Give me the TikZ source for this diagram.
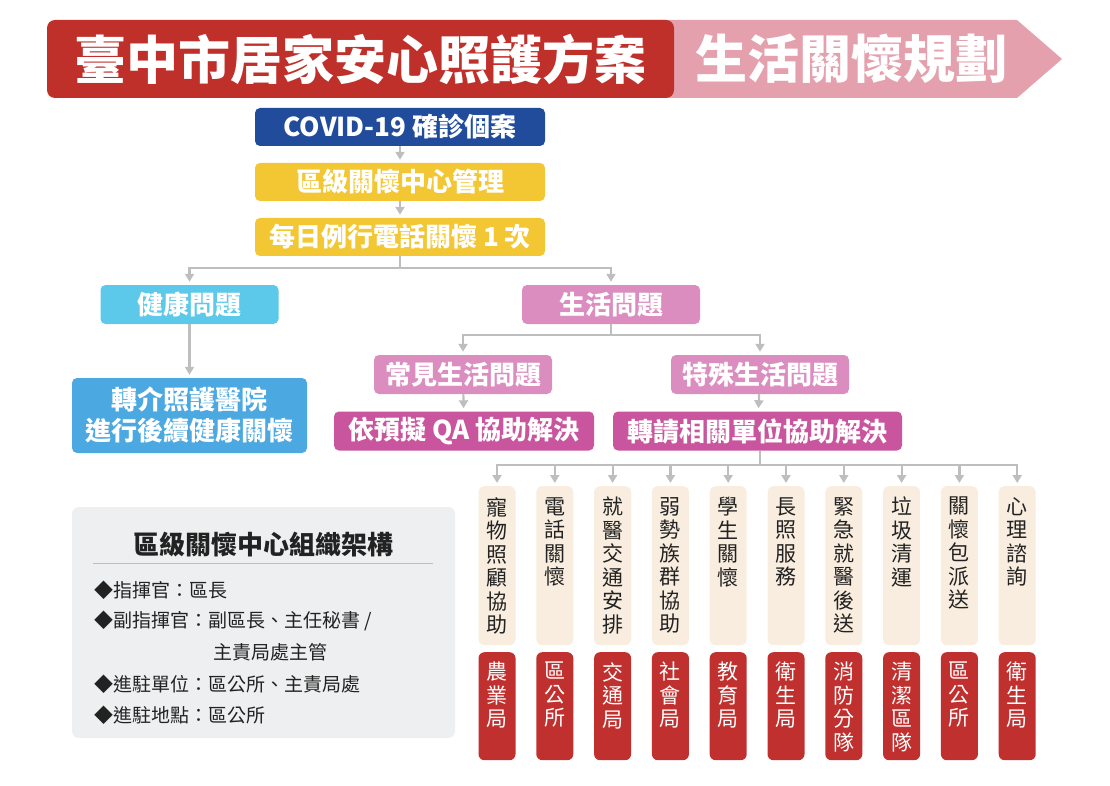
\documentclass[tikz,border=0pt]{standalone}
\usepackage{fontspec}
\setmainfont{Noto Sans CJK TC}
\usetikzlibrary{arrows.meta}
\definecolor{tred}{HTML}{C0302B}
\definecolor{tpink}{HTML}{E4A0AD}
\definecolor{cblue}{HTML}{214C9C}
\definecolor{cyel}{HTML}{F2C733}
\definecolor{hblue}{HTML}{5DC9EA}
\definecolor{rblue}{HTML}{4BA8E0}
\definecolor{lpink}{HTML}{DC8DBF}
\definecolor{mag}{HTML}{C8559D}
\definecolor{beige}{HTML}{F8EDDF}
\definecolor{colred}{HTML}{C0302E}
\definecolor{lgray}{HTML}{BEBEBE}
\definecolor{infog}{HTML}{EEEFF0}
\definecolor{ink}{HTML}{222222}
\tikzset{
  box/.style={rounded corners=5pt, minimum height=39pt, text=white, inner sep=0pt,
    font=\bfseries\fontsize{26}{31}\selectfont, align=center},
  conn/.style={draw=lgray, line width=2.2pt},
  arr/.style={conn, -{Triangle[length=8pt,width=9pt]}, shorten >=3pt},
  colbox/.style={rounded corners=6pt, minimum width=37pt, inner sep=0pt, anchor=north},
  coltext/.style={anchor=north, inner sep=0pt, align=center, font=\fontsize{21}{23.5}\selectfont},
  item/.style={anchor=west, inner sep=0pt, text=ink, font=\fontsize{19}{22}\selectfont},
}
\begin{document}
\begin{tikzpicture}[x=1pt,y=-1pt]
\useasboundingbox (0,0) rectangle (1110,786);
% title banner
\fill[tpink] (640,20) -- (1017,20) -- (1062,59) -- (1017,98) -- (640,98) -- cycle;
\node[fill=tred, rounded corners=8pt, minimum width=627pt, minimum height=78pt, inner sep=0pt] (ttl) at (360.5,59) {};
\node[text=white, font=\bfseries\fontsize{52}{60}\selectfont, inner sep=0pt] (ttltext) at (360,59) {臺中市居家安心照護方案};
\node[text=white, font=\bfseries\fontsize{52}{60}\selectfont, inner sep=0pt] (subttl) at (851,59) {生活關懷規劃};
% top chain
\node[box, fill=cblue, minimum width=290pt, minimum height=38pt] (covid) at (400,127) {COVID-19 確診個案};
\node[box, fill=cyel, minimum width=290pt, minimum height=38pt] (mgmt) at (400,182) {區級關懷中心管理};
\node[box, fill=cyel, minimum width=290pt, minimum height=38pt] (daily) at (400,237) {每日例行電話關懷 1 次};
\node[box, fill=hblue, minimum width=178pt] (health) at (189.5,304.5) {健康問題};
\node[box, fill=lpink, minimum width=178pt] (life) at (611,304.5) {生活問題};
\node[box, fill=rblue, minimum width=235pt, minimum height=75pt, font=\bfseries\fontsize{26}{31}\selectfont] (refer) at (189.5,415.5) {轉介照護醫院\\進行後續健康關懷};
\node[box, fill=lpink, minimum width=178pt] (common) at (463,374.5) {常見生活問題};
\node[box, fill=lpink, minimum width=178pt] (special) at (760,374.5) {特殊生活問題};
\node[box, fill=mag, minimum width=260pt] (qa) at (464,431) {依預擬 QA 協助解決};
\node[box, fill=mag, minimum width=289pt] (transfer) at (757.5,431) {轉請相關單位協助解決};
% connectors top
\draw[arr] (covid) -- (mgmt);
\draw[arr] (mgmt) -- (daily);
\coordinate (dj) at (400,268);
\draw[conn] (daily.south) -- (dj);
\draw[arr] (dj) -| (health.north);
\draw[arr] (dj) -| (life.north);
\draw[arr] (health) -- (refer);
\coordinate (lj) at (611,335);
\draw[conn] (life.south) -- (lj);
\draw[arr] (lj) -| (common.north);
\draw[arr] (lj) -| (special.north);
\draw[arr] (common) -- (qa);
\draw[arr] (special) -- (transfer);
% columns
\coordinate (tj) at (760,465);
\draw[conn] (tj |- transfer.south) -- (tj);
\foreach \i/\a/\b in {0/{寵\\物\\照\\顧\\協\\助}/{農\\業\\局},
  1/{電\\話\\關\\懷}/{區\\公\\所},
  2/{就\\醫\\交\\通\\安\\排}/{交\\通\\局},
  3/{弱\\勢\\族\\群\\協\\助}/{社\\會\\局},
  4/{學\\生\\關\\懷}/{教\\育\\局},
  5/{長\\照\\服\\務}/{衛\\生\\局},
  6/{緊\\急\\就\\醫\\後\\送}/{消\\防\\分\\隊},
  7/{垃\\圾\\清\\運}/{清\\潔\\區\\隊},
  8/{關\\懷\\包\\派\\送}/{區\\公\\所},
  9/{心\\理\\諮\\詢}/{衛\\生\\局}} {
  \pgfmathsetmacro{\cx}{497+\i*57.8}
  \node[colbox, fill=beige, minimum height=159pt] (task\i) at (\cx,486) {};
  \node[coltext, text=ink] (tasktext\i) at (\cx,497) {\a};
  \node[colbox, fill=colred, minimum height=108pt] (unit\i) at (\cx,652) {};
  \node[coltext, text=white] (unittext\i) at (\cx,662) {\b};
  \draw[arr] (tj) -| (task\i.north);
}
% info box
\node[fill=infog, rounded corners=7pt, minimum width=383pt, minimum height=231pt, inner sep=0pt] (info) at (263.5,622.5) {};
\node[inner sep=0pt, text=ink, font=\bfseries\fontsize{26}{30}\selectfont] (infotitle) at (263,545) {區級關懷中心組織架構};
\coordinate (rl) at (93,563);
\coordinate (rr) at (433,563);
\draw[lgray, line width=1pt] (rl) -- (rr);
\node[item] (i1) at (94,590) {◆指揮官：區長};
\node[item] (i2) at (94,621) {◆副指揮官：副區長、主任秘書 /};
\node[item] (i3) at (213,652) {主責局處主管};
\node[item] (i4) at (94,684) {◆進駐單位：區公所、主責局處};
\node[item] (i5) at (94,715) {◆進駐地點：區公所};
\end{tikzpicture}
\end{document}
